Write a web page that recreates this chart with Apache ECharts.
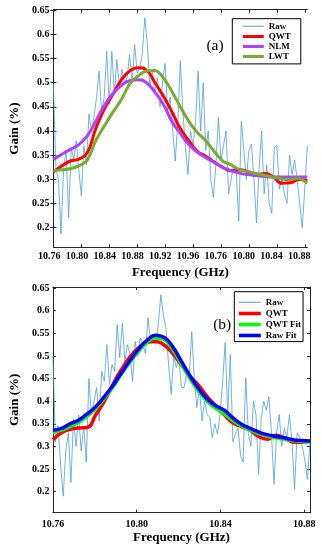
<!DOCTYPE html>
<html><head><meta charset="utf-8">
<script src="https://cdn.jsdelivr.net/npm/echarts@6/dist/echarts.min.js"></script>
<style>html,body{margin:0;padding:0;background:#fff}#c{width:322px;height:550px}</style>
</head><body><div id="c"></div>
<script>
// ---------- tick labels ----------
const topXLabels = ['10.76','10.80','10.84','10.88','10.92','10.96','10.76','10.80','10.84','10.88'];
const topXTickIdx = [0,1,2,3,4,5,6,7,8,9];
const yTickValues = [0.2,0.25,0.3,0.35,0.4,0.45,0.5,0.55,0.6,0.65];
const bottomXTicks = [10.76,10.80,10.84,10.88];

// ---------- panel (a) series (uniform samples across the axis) ----------
const topRaw = [0.496,0.32,0.30,0.187,0.32,0.36,0.221,0.366,0.34,0.38,
  0.32,0.266,0.37,0.33,0.435,0.40,0.43,0.47,0.524,0.44,
  0.469,0.565,0.455,0.565,0.476,0.548,0.49,0.528,0.50,0.51,
  0.558,0.50,0.579,0.52,0.53,0.56,0.634,0.58,0.49,0.524,
  0.476,0.51,0.45,0.50,0.54,0.44,0.47,0.40,0.338,0.42,
  0.545,0.44,0.366,0.31,0.40,0.37,0.42,0.524,0.40,0.50,
  0.36,0.40,0.30,0.263,0.33,0.428,0.34,0.37,0.40,0.27,
  0.30,0.33,0.318,0.214,0.42,0.36,0.30,0.36,0.373,0.30,
  0.21,0.32,0.40,0.27,0.33,0.25,0.23,0.366,0.37,0.28,
  0.30,0.27,0.25,0.35,0.31,0.34,0.30,0.25,0.20,0.28,0.37];
const topQWT = [0.315,0.328,0.338,0.342,0.355,0.405,0.445,0.475,0.505,0.524,
  0.531,0.526,0.50,0.472,0.44,0.405,0.38,0.358,0.348,0.336,
  0.325,0.318,0.32,0.316,0.31,0.312,0.305,0.292,0.293,0.30,0.298];
const topNLM = [0.341,0.352,0.362,0.372,0.39,0.42,0.452,0.477,0.494,0.504,
  0.506,0.50,0.48,0.455,0.42,0.395,0.372,0.356,0.345,0.335,
  0.325,0.318,0.313,0.31,0.308,0.306,0.305,0.305,0.305,0.305,0.305];
const topLWT = [0.318,0.32,0.322,0.328,0.34,0.38,0.41,0.438,0.464,0.497,
  0.514,0.524,0.525,0.51,0.482,0.45,0.42,0.397,0.38,0.358,
  0.338,0.33,0.32,0.316,0.312,0.308,0.305,0.301,0.30,0.302,0.292];

// ---------- panel (b) series ----------
const botRaw = [0.50,0.31,0.345,0.26,0.19,0.29,0.33,0.22,0.36,0.30,
  0.37,0.29,0.345,0.265,0.45,0.37,0.40,0.43,0.356,0.466,
  0.444,0.525,0.437,0.481,0.466,0.569,0.496,0.572,0.488,0.525,
  0.503,0.444,0.532,0.499,0.54,0.525,0.505,0.584,0.532,0.54,
  0.525,0.57,0.635,0.59,0.56,0.48,0.415,0.50,0.474,0.496,
  0.43,0.43,0.459,0.452,0.554,0.45,0.386,0.43,0.356,0.40,
  0.371,0.364,0.319,0.35,0.327,0.371,0.44,0.53,0.371,0.503,
  0.31,0.327,0.34,0.28,0.266,0.452,0.33,0.30,0.40,0.37,
  0.238,0.36,0.40,0.38,0.41,0.33,0.216,0.33,0.371,0.30,
  0.34,0.32,0.37,0.31,0.205,0.33,0.32,0.30,0.27,0.227,0.31];
const botQWT = [0.315,0.33,0.338,0.341,0.342,0.37,0.40,0.437,0.47,0.498,
  0.518,0.53,0.532,0.524,0.505,0.48,0.455,0.435,0.41,0.39,
  0.37,0.352,0.344,0.336,0.322,0.316,0.325,0.319,0.31,0.309,0.312];
const botQWTFit = [0.331,0.336,0.344,0.353,0.367,0.384,0.406,0.431,0.46,0.487,
  0.51,0.53,0.54,0.536,0.514,0.482,0.45,0.422,0.40,0.384,
  0.372,0.357,0.345,0.336,0.329,0.323,0.319,0.316,0.313,0.311,0.31];
const botRawFit = [0.336,0.34,0.35,0.358,0.372,0.388,0.41,0.435,0.463,0.49,
  0.515,0.535,0.546,0.541,0.52,0.488,0.456,0.428,0.405,0.39,
  0.38,0.363,0.349,0.34,0.332,0.326,0.322,0.319,0.315,0.313,0.312];

// ---------- axis extents ----------
const TOP_X_MAX = 9.07;
const BOT_X_MIN = 10.76, BOT_X_MAX = 10.8828;
const TOP_Y = [0.1595, 0.651];
const BOT_Y = [0.1535, 0.6525];

function spread(vals, x0, x1) {
  return vals.map((v, i) => [x0 + (x1 - x0) * i / (vals.length - 1), v]);
}

const FONT = 'Liberation Serif';
const AX = '#262626';
const C_RAW = '#4f9fd8', C_QWT = '#ff0000', C_NLM = '#b040ff', C_LWT = '#77ac30';
const C_QFIT = '#00ff00', C_RFIT = '#0000ff';

const lblStyle = { fontFamily: FONT, fontWeight: 'bold', fontSize: 10, color: '#000' };
const nameStyle = { fontFamily: FONT, fontWeight: 'bold', fontSize: 13, color: '#000' };
const tickIn = { show: true, inside: true, length: 3, lineStyle: { color: AX, width: 1 } };
const axLine = { show: true, lineStyle: { color: AX, width: 1 } };
const yFmt = v => String(Math.round(v * 100) / 100);

// legend line-sample icon: a horizontal bar of thickness t inside a w x h box
function barIcon(w, h, t) {
  const a = (h - t) / 2, b = (h + t) / 2;
  return 'path://M0,0L0.01,0L0,0.01Z' +
    'M0,' + a + 'L' + w + ',' + a + 'L' + w + ',' + b + 'L0,' + b + 'Z' +
    'M' + w + ',' + h + 'L' + (w - 0.01) + ',' + h + 'L' + w + ',' + (h - 0.01) + 'Z';
}

function mirrorX(grid, min, max, ticks) {
  return { gridIndex: grid, type: 'value', position: 'top', min, max,
    axisLine: axLine, axisTick: Object.assign({ customValues: ticks }, tickIn),
    axisLabel: { show: false }, splitLine: { show: false } };
}
function mirrorY(grid, min, max) {
  return { gridIndex: grid, type: 'value', position: 'right', min, max,
    axisLine: axLine, axisTick: Object.assign({ customValues: yTickValues }, tickIn),
    axisLabel: { show: false }, splitLine: { show: false } };
}

const line = (name, data, xi, yi, color, width, smooth, z) => ({
  name, type: 'line', data, xAxisIndex: xi, yAxisIndex: yi, symbol: 'none',
  smooth, lineStyle: { color, width }, itemStyle: { color }, z, animation: false
});

const legText = { fontFamily: FONT, fontWeight: 'bold', fontSize: 9, color: '#000' };

const option = {
  animation: false,
  backgroundColor: '#fff',
  grid: [
    { left: 38.7, top: 9.7, width: 268.6, height: 237.6 },
    { left: 49.2, top: 9.7, width: 250, height: 237.6 },
    { left: 44.7, top: 287, width: 265.3, height: 225.7 }
  ],
  xAxis: [
    { gridIndex: 0, type: 'value', position: 'bottom', min: 0, max: TOP_X_MAX,
      axisLine: axLine, axisTick: Object.assign({ customValues: topXTickIdx }, tickIn),
      axisLabel: { show: false }, splitLine: { show: false },
      name: 'Frequency (GHz)', nameLocation: 'middle', nameGap: 18.5, nameTextStyle: nameStyle },
    mirrorX(0, 0, TOP_X_MAX, topXTickIdx),
    { gridIndex: 1, type: 'category', data: topXLabels, boundaryGap: false, position: 'bottom',
      axisLine: { show: false }, axisTick: { show: false }, splitLine: { show: false },
      axisLabel: Object.assign({ interval: 0, margin: 4.4 }, lblStyle) },
    { gridIndex: 2, type: 'value', position: 'bottom', min: BOT_X_MIN, max: BOT_X_MAX,
      axisLine: axLine, axisTick: Object.assign({ customValues: bottomXTicks }, tickIn),
      axisLabel: Object.assign({ customValues: bottomXTicks, margin: 6.3, formatter: v => v.toFixed(2) }, lblStyle),
      splitLine: { show: false },
      name: 'Frequency (GHz)', nameLocation: 'middle', nameGap: 18, nameTextStyle: nameStyle },
    mirrorX(2, BOT_X_MIN, BOT_X_MAX, bottomXTicks)
  ],
  yAxis: [
    { gridIndex: 0, type: 'value', position: 'left', min: TOP_Y[0], max: TOP_Y[1],
      axisLine: axLine, axisTick: Object.assign({ customValues: yTickValues }, tickIn),
      axisLabel: Object.assign({ customValues: yTickValues, margin: 4, formatter: yFmt }, lblStyle),
      splitLine: { show: false },
      name: 'Gain (%)', nameLocation: 'middle', nameGap: 23.3, nameRotate: 90, nameTextStyle: nameStyle },
    mirrorY(0, TOP_Y[0], TOP_Y[1]),
    { gridIndex: 1, type: 'value', show: false, min: 0, max: 1 },
    { gridIndex: 2, type: 'value', position: 'left', min: BOT_Y[0], max: BOT_Y[1],
      axisLine: axLine, axisTick: Object.assign({ customValues: yTickValues }, tickIn),
      axisLabel: Object.assign({ customValues: yTickValues, margin: 3.5, formatter: yFmt }, lblStyle),
      splitLine: { show: false },
      name: 'Gain (%)', nameLocation: 'middle', nameGap: 24, nameRotate: 90, nameTextStyle: nameStyle },
    mirrorY(2, BOT_Y[0], BOT_Y[1])
  ],
  legend: [
    { data: [
        { name: 'Raw', icon: barIcon(21, 10, 1) },
        { name: 'QWT', icon: barIcon(21, 10, 3) },
        { name: 'NLM', icon: barIcon(21, 10, 3) },
        { name: 'LWT', icon: barIcon(21, 10, 3) }
      ],
      orient: 'vertical', left: 232.3, top: 18.7,
      itemWidth: 21, itemHeight: 10, itemGap: 0.1, padding: [2.6, 10, 2.3, 10.5],
      itemStyle: { borderWidth: 0 },
      borderColor: '#000', borderWidth: 1, backgroundColor: '#fff', selectedMode: false,
      textStyle: legText },
    { data: [
        { name: 'Raw', icon: barIcon(22, 10, 1) },
        { name: 'QWT', icon: barIcon(22, 10, 3.5) },
        { name: 'QWT Fit', icon: barIcon(22, 10, 3.5) },
        { name: 'Raw Fit', icon: barIcon(22, 10, 3.5) }
      ],
      orient: 'vertical', left: 234.3, top: 291.7,
      itemWidth: 22, itemHeight: 10, itemGap: 1.1, padding: [5.6, 2, 1, 4.5],
      itemStyle: { borderWidth: 0 },
      borderColor: '#000', borderWidth: 1, backgroundColor: '#fff', selectedMode: false,
      textStyle: legText }
  ],
  graphic: [
    { type: 'text', x: 215, y: 45.7, z: 100,
      style: { text: '(a)', font: '15.5px "Liberation Serif"', fill: '#000', align: 'center', verticalAlign: 'middle' } },
    { type: 'text', x: 222.2, y: 325, z: 100,
      style: { text: '(b)', font: '15.5px "Liberation Serif"', fill: '#000', align: 'center', verticalAlign: 'middle' } }
  ],
  series: [
    line('Raw', spread(topRaw, 0, TOP_X_MAX), 0, 0, C_RAW, 0.8, false, 2),
    line('QWT', spread(topQWT, 0, TOP_X_MAX), 0, 0, C_QWT, 3, true, 3),
    line('NLM', spread(topNLM, 0, TOP_X_MAX), 0, 0, C_NLM, 3, true, 4),
    line('LWT', spread(topLWT, 0, TOP_X_MAX), 0, 0, C_LWT, 3, 0.3, 5),
    line('Raw', spread(botRaw, BOT_X_MIN, BOT_X_MAX), 3, 3, C_RAW, 0.8, false, 2),
    line('QWT', spread(botQWT, BOT_X_MIN, BOT_X_MAX), 3, 3, C_QWT, 3.5, true, 3),
    line('QWT Fit', spread(botQWTFit, BOT_X_MIN, BOT_X_MAX), 3, 3, C_QFIT, 3.5, true, 4),
    line('Raw Fit', spread(botRawFit, BOT_X_MIN, BOT_X_MAX), 3, 3, C_RFIT, 3.5, true, 5)
  ]
};

const chart = echarts.init(document.getElementById('c'), null, { renderer: 'canvas' });
chart.setOption(option);
</script>
</body></html>
